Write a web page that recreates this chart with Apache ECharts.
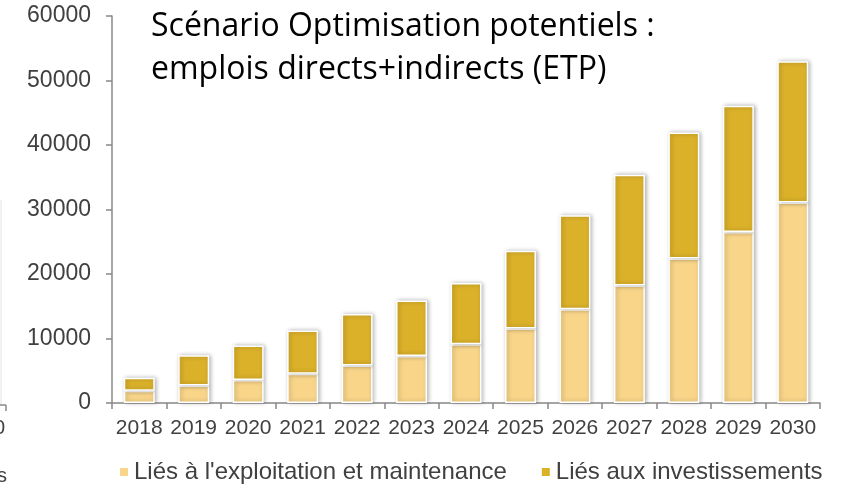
<!DOCTYPE html>
<html>
<head>
<meta charset="utf-8">
<script src="https://cdn.jsdelivr.net/npm/echarts@6/dist/echarts.min.js"></script>
<style>
  html, body { margin: 0; padding: 0; background: #fff; }
  #chart { width: 841px; height: 486px; }
</style>
</head>
<body>
<div id="chart"></div>
<script>
// Années
const annees = ['2018', '2019', '2020', '2021', '2022', '2023', '2024', '2025', '2026', '2027', '2028', '2029', '2030'];

// Emplois (ETP)
const exploitation = [1900, 2700, 3550, 4550, 5800, 7300, 9100, 11550, 14550, 18200, 22400, 26500, 31100];
const investissements = [2000, 4700, 5350, 6700, 8000, 8600, 9500, 12050, 14550, 17200, 19550, 19600, 21900];

const nomsSeries = ["Liés à l'exploitation et maintenance", 'Liés aux investissements'];
const titre = 'Scénario Optimisation potentiels :\nemplois directs+indirects (ETP)';

const chart = echarts.init(document.getElementById('chart'));

const styleBarre = (couleur) => ({
    color: couleur,
    borderColor: '#ffffff',
    borderWidth: 1.5,
    shadowColor: 'rgba(0,0,0,0.28)',
    shadowBlur: 4,
    shadowOffsetX: 1.5,
    shadowOffsetY: 0
});

const option = {
    animation: false,
    backgroundColor: '#ffffff',
    title: {
        text: titre,
        left: 146,
        top: 0,
        textStyle: {
            fontFamily: 'Open Sans',
            fontWeight: 'normal',
            fontSize: 32,
            lineHeight: 43,
            color: '#000000'
        }
    },
    legend: {
        top: 455,
        left: 113,
        icon: 'rect',
        itemWidth: 10,
        itemHeight: 10,
        itemGap: 33,
        textStyle: {
            fontFamily: 'Liberation Sans',
            fontSize: 24,
            color: '#404040'
        },
        data: nomsSeries
    },
    grid: {
        left: 112,
        right: 21,
        top: 16,
        bottom: 83,
        containLabel: false
    },
    xAxis: {
        type: 'category',
        data: annees,
        boundaryGap: true,
        axisLine: { lineStyle: { color: '#888888', width: 1.5 } },
        axisTick: { show: true, length: 6, inside: false, lineStyle: { color: '#888888', width: 1.5 } },
        axisLabel: {
            interval: 0,
            margin: 15,
            fontFamily: 'Liberation Sans',
            fontSize: 21,
            color: '#404040'
        }
    },
    yAxis: {
        type: 'value',
        min: 0,
        max: 60000,
        interval: 10000,
        splitLine: { show: false },
        axisLine: { show: true, lineStyle: { color: '#888888', width: 1.5 } },
        axisTick: { show: true, length: 6, lineStyle: { color: '#888888', width: 1.5 } },
        axisLabel: {
            margin: 21,
            formatter: (v) => String(v),
            fontFamily: 'Liberation Sans',
            fontSize: 23,
            color: '#404040'
        }
    },
    series: [
        {
            name: nomsSeries[0],
            type: 'bar',
            stack: 'emplois',
            barWidth: 31,
            data: exploitation,
            itemStyle: styleBarre('#F8D589')
        },
        {
            name: nomsSeries[1],
            type: 'bar',
            stack: 'emplois',
            barWidth: 31,
            data: investissements,
            itemStyle: styleBarre('#DBB12A')
        }
    ],
    // restes du graphique voisin, coupés sur le bord gauche
    graphic: [
        { type: 'line', shape: { x1: 1, y1: 200, x2: 1, y2: 405 }, style: { stroke: '#e4e4e4', lineWidth: 1 } },
        { type: 'line', shape: { x1: 0, y1: 405, x2: 6, y2: 405 }, style: { stroke: '#888888', lineWidth: 1.5 } },
        { type: 'line', shape: { x1: 6, y1: 405, x2: 6, y2: 411 }, style: { stroke: '#888888', lineWidth: 1.5 } },
        { type: 'text', left: -6, top: 418, style: { text: '0', font: '20px "Liberation Sans"', fill: '#404040' } },
        { type: 'text', left: -3, top: 466, style: { text: 's', font: '20px "Liberation Sans"', fill: '#404040' } }
    ]
};

chart.setOption(option);
</script>
</body>
</html>
